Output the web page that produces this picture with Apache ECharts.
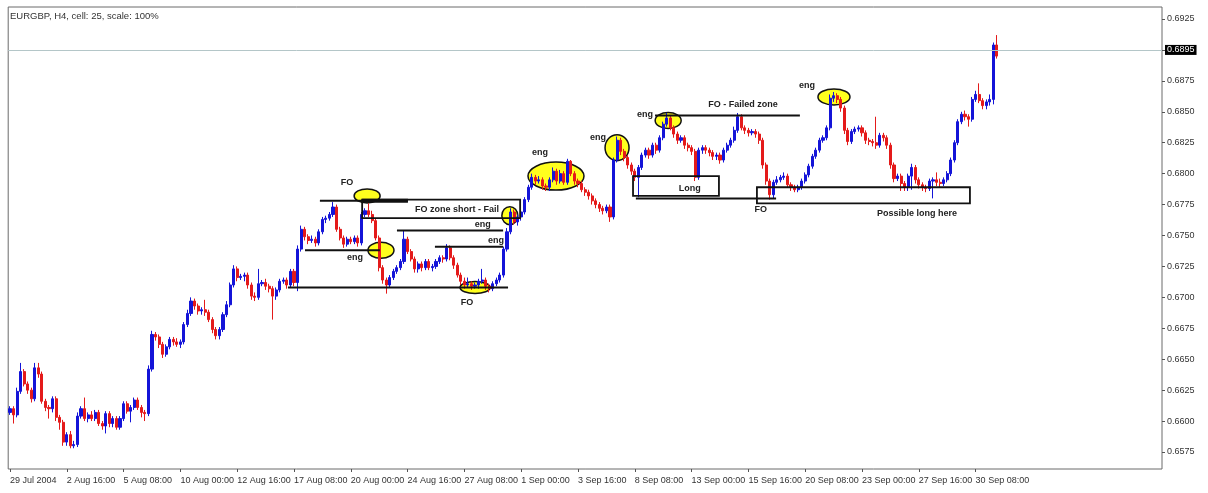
<!DOCTYPE html>
<html>
<head>
<meta charset="utf-8">
<title>EURGBP H4</title>
<script src="https://cdn.jsdelivr.net/npm/echarts@6.0.0/dist/echarts.min.js"></script>
<style>
  html, body { margin: 0; padding: 0; background: #fff; }
  #chart { width: 1208px; height: 493px; }
</style>
</head>
<body>
<div id="chart"></div>
<script>
// H4 bars; each bar opens at the previous close
const firstOpen = 0.6607;
const closes = [
  0.6610,0.6605,0.6624,0.6640,0.6630,0.6625,0.6618,0.6643,0.6638,0.6616,
  0.6611,0.6610,0.6618,0.6603,0.6599,0.6583,0.6589,0.6580,0.6581,0.6604,
  0.6610,0.6602,0.6605,0.6602,0.6607,0.6598,0.6596,0.6606,0.6598,0.6602,
  0.6595,0.6602,0.6614,0.6608,0.6611,0.6617,0.6611,0.6607,0.6606,0.6642,
  0.6670,0.6668,0.6662,0.6654,0.6660,0.6666,0.6664,0.6662,0.6664,0.6678,
  0.6687,0.6697,0.6693,0.6689,0.6690,0.6688,0.6682,0.6674,0.6669,0.6674,
  0.6686,0.6694,0.6710,0.6723,0.6716,0.6717,0.6718,0.6710,0.6701,0.6700,
  0.6711,0.6712,0.6709,0.6707,0.6701,0.6706,0.6713,0.6714,0.6710,0.6721,
  0.6712,0.6739,0.6755,0.6749,0.6746,0.6747,0.6744,0.6753,0.6763,0.6764,
  0.6767,0.6773,0.6755,0.6748,0.6743,0.6747,0.6745,0.6748,0.6744,0.6767,
  0.6770,0.6767,0.6762,0.6748,0.6724,0.6714,0.6710,0.6716,0.6721,0.6724,
  0.6729,0.6747,0.6737,0.6731,0.6723,0.6727,0.6724,0.6729,0.6724,0.6725,
  0.6729,0.6732,0.6731,0.6740,0.6732,0.6726,0.6718,0.6713,0.6710,0.6711,
  0.6709,0.6710,0.6713,0.6714,0.6709,0.6707,0.6711,0.6714,0.6718,0.6739,
  0.6753,0.6769,0.6761,0.6765,0.6769,0.6779,0.6789,0.6797,0.6794,0.6795,
  0.6790,0.6789,0.6795,0.6802,0.6794,0.6800,0.6793,0.6810,0.6800,0.6794,
  0.6792,0.6787,0.6785,0.6782,0.6778,0.6775,0.6772,0.6770,0.6773,0.6765,
  0.6811,0.6827,0.6818,0.6813,0.6807,0.6802,0.6797,0.6805,0.6815,0.6819,
  0.6815,0.6823,0.6819,0.6829,0.6840,0.6845,0.6837,0.6832,0.6827,0.6829,
  0.6823,0.6821,0.6818,0.6797,0.6819,0.6821,0.6819,0.6817,0.6814,0.6815,
  0.6811,0.6819,0.6823,0.6827,0.6835,0.6846,0.6837,0.6835,0.6833,0.6834,
  0.6832,0.6827,0.6807,0.6794,0.6783,0.6793,0.6795,0.6797,0.6798,0.6791,
  0.6789,0.6787,0.6789,0.6794,0.6799,0.6806,0.6814,0.6819,0.6827,0.6829,
  0.6837,0.6861,0.6863,0.6860,0.6853,0.6835,0.6826,0.6834,0.6836,0.6837,
  0.6833,0.6827,0.6826,0.6825,0.6823,0.6831,0.6829,0.6823,0.6807,0.6796,
  0.6798,0.6792,0.6789,0.6798,0.6805,0.6795,0.6791,0.6789,0.6788,0.6794,
  0.6795,0.6793,0.6792,0.6795,0.6800,0.6811,0.6825,0.6842,0.6848,0.6846,
  0.6844,0.6860,0.6864,0.6859,0.6855,0.6858,0.6860,0.6904,0.6895
];
const highs = [
  0.6612,0.6612,0.6627,0.6647,0.6642,0.6632,0.6627,0.6647,0.6647,0.6640,
  0.6618,0.6613,0.6620,0.6620,0.6605,0.6601,0.6591,0.6592,0.6584,0.6607,
  0.6612,0.6619,0.6607,0.6608,0.6609,0.6609,0.6600,0.6608,0.6608,0.6604,
  0.6604,0.6604,0.6616,0.6616,0.6613,0.6619,0.6619,0.6613,0.6609,0.6645,
  0.6673,0.6672,0.6670,0.6664,0.6662,0.6668,0.6668,0.6667,0.6666,0.6680,
  0.6690,0.6700,0.6699,0.6695,0.6692,0.6698,0.6690,0.6684,0.6676,0.6676,
  0.6688,0.6697,0.6712,0.6726,0.6725,0.6719,0.6720,0.6720,0.6712,0.6704,
  0.6723,0.6714,0.6715,0.6711,0.6709,0.6708,0.6715,0.6716,0.6716,0.6723,
  0.6723,0.6742,0.6758,0.6757,0.6751,0.6750,0.6749,0.6755,0.6765,0.6766,
  0.6769,0.6777,0.6775,0.6757,0.6750,0.6749,0.6749,0.6750,0.6750,0.6769,
  0.6772,0.6776,0.6770,0.6764,0.6750,0.6726,0.6716,0.6718,0.6723,0.6726,
  0.6731,0.6754,0.6749,0.6739,0.6733,0.6729,0.6729,0.6731,0.6731,0.6727,
  0.6731,0.6734,0.6734,0.6743,0.6742,0.6734,0.6728,0.6720,0.6716,0.6716,
  0.6713,0.6712,0.6715,0.6723,0.6716,0.6711,0.6713,0.6716,0.6720,0.6741,
  0.6756,0.6772,0.6771,0.6767,0.6771,0.6781,0.6791,0.6800,0.6799,0.6798,
  0.6797,0.6792,0.6797,0.6805,0.6804,0.6803,0.6802,0.6812,0.6811,0.6802,
  0.6796,0.6794,0.6789,0.6787,0.6784,0.6780,0.6777,0.6774,0.6775,0.6775,
  0.6813,0.6830,0.6829,0.6820,0.6815,0.6809,0.6804,0.6807,0.6817,0.6821,
  0.6821,0.6825,0.6825,0.6831,0.6842,0.6849,0.6847,0.6839,0.6834,0.6831,
  0.6831,0.6825,0.6823,0.6820,0.6821,0.6823,0.6823,0.6821,0.6819,0.6817,
  0.6817,0.6821,0.6825,0.6829,0.6838,0.6849,0.6848,0.6839,0.6837,0.6836,
  0.6836,0.6834,0.6829,0.6809,0.6796,0.6795,0.6798,0.6799,0.6801,0.6800,
  0.6793,0.6791,0.6791,0.6796,0.6801,0.6808,0.6816,0.6821,0.6829,0.6831,
  0.6839,0.6864,0.6866,0.6865,0.6862,0.6855,0.6837,0.6836,0.6838,0.6839,
  0.6839,0.6835,0.6829,0.6828,0.6846,0.6833,0.6833,0.6831,0.6825,0.6809,
  0.6800,0.6800,0.6794,0.6800,0.6808,0.6807,0.6797,0.6793,0.6791,0.6796,
  0.6797,0.6801,0.6796,0.6797,0.6802,0.6813,0.6827,0.6844,0.6850,0.6851,
  0.6848,0.6862,0.6867,0.6873,0.6861,0.6860,0.6864,0.6906,0.6912
];
const lows = [
  0.6605,0.6598,0.6603,0.6622,0.6628,0.6622,0.6615,0.6616,0.6635,0.6614,
  0.6608,0.6602,0.6607,0.6600,0.6593,0.6580,0.6580,0.6578,0.6578,0.6579,
  0.6602,0.6600,0.6599,0.6600,0.6600,0.6596,0.6593,0.6590,0.6595,0.6595,
  0.6593,0.6593,0.6600,0.6606,0.6599,0.6609,0.6609,0.6603,0.6600,0.6604,
  0.6640,0.6665,0.6659,0.6651,0.6652,0.6658,0.6661,0.6660,0.6659,0.6662,
  0.6676,0.6685,0.6690,0.6686,0.6686,0.6685,0.6680,0.6671,0.6666,0.6666,
  0.6672,0.6684,0.6692,0.6708,0.6713,0.6714,0.6713,0.6707,0.6698,0.6697,
  0.6698,0.6709,0.6706,0.6704,0.6682,0.6698,0.6704,0.6711,0.6707,0.6708,
  0.6709,0.6705,0.6737,0.6746,0.6743,0.6744,0.6741,0.6742,0.6751,0.6760,
  0.6762,0.6765,0.6753,0.6746,0.6740,0.6741,0.6743,0.6743,0.6741,0.6742,
  0.6765,0.6765,0.6760,0.6746,0.6721,0.6711,0.6703,0.6708,0.6714,0.6719,
  0.6722,0.6727,0.6735,0.6729,0.6720,0.6720,0.6721,0.6722,0.6722,0.6721,
  0.6723,0.6727,0.6728,0.6729,0.6730,0.6723,0.6716,0.6710,0.6707,0.6708,
  0.6706,0.6707,0.6707,0.6711,0.6706,0.6704,0.6705,0.6709,0.6712,0.6716,
  0.6737,0.6751,0.6759,0.6758,0.6762,0.6767,0.6777,0.6787,0.6791,0.6792,
  0.6787,0.6786,0.6786,0.6793,0.6791,0.6792,0.6791,0.6791,0.6798,0.6791,
  0.6789,0.6785,0.6782,0.6779,0.6775,0.6772,0.6769,0.6767,0.6768,0.6761,
  0.6763,0.6809,0.6815,0.6810,0.6804,0.6799,0.6794,0.6781,0.6803,0.6813,
  0.6812,0.6813,0.6816,0.6817,0.6827,0.6838,0.6835,0.6829,0.6824,0.6825,
  0.6820,0.6818,0.6815,0.6794,0.6795,0.6816,0.6816,0.6814,0.6811,0.6811,
  0.6808,0.6809,0.6817,0.6821,0.6825,0.6833,0.6835,0.6832,0.6830,0.6831,
  0.6829,0.6824,0.6804,0.6791,0.6779,0.6780,0.6791,0.6793,0.6795,0.6789,
  0.6786,0.6785,0.6785,0.6787,0.6792,0.6797,0.6804,0.6812,0.6817,0.6825,
  0.6827,0.6835,0.6858,0.6857,0.6850,0.6832,0.6823,0.6824,0.6832,0.6834,
  0.6830,0.6824,0.6823,0.6822,0.6820,0.6821,0.6826,0.6820,0.6804,0.6793,
  0.6794,0.6786,0.6786,0.6786,0.6787,0.6792,0.6788,0.6786,0.6785,0.6786,
  0.6780,0.6790,0.6789,0.6790,0.6793,0.6798,0.6809,0.6823,0.6840,0.6843,
  0.6838,0.6842,0.6858,0.6857,0.6852,0.6852,0.6855,0.6856,0.6893
];
const lastPrice = 0.6895;

const tickLabels = ['29 Jul 2004', '2 Aug 16:00', '5 Aug 08:00', '10 Aug 00:00', '12 Aug 16:00',
  '17 Aug 08:00', '20 Aug 00:00', '24 Aug 16:00', '27 Aug 08:00', '1 Sep 00:00', '3 Sep 16:00',
  '8 Sep 08:00', '13 Sep 00:00', '15 Sep 16:00', '20 Sep 08:00', '23 Sep 00:00', '27 Sep 16:00', '30 Sep 08:00'];
const priceTicks = [0.6575, 0.6600, 0.6625, 0.6650, 0.6675, 0.6700, 0.6725, 0.6750,
  0.6775, 0.6800, 0.6825, 0.6850, 0.6875, 0.6900, 0.6925];

// drawn annotations, in [bar index, price]
const levelLines = [ // [fromBar, toBar, price]
  [87.3, 112.1, 0.6778], [83.1, 104.2, 0.6738], [109.0, 138.9, 0.6754], [119.7, 138.9, 0.6741],
  [78.3, 140.3, 0.6708], [181.7, 222.5, 0.6847], [176.3, 215.8, 0.6780]
];
const heavyLines = [[99.2, 112.1, 0.6778]];
const zoneBoxes = [ // [fromBar, toBar, top, bottom]
  [99.2, 143.7, 0.6779, 0.6764], [175.5, 199.7, 0.6798, 0.6782], [210.4, 270.4, 0.6789, 0.6776]
];
const circled = [ // [bar, price]
  [100.6, 0.6782], [104.5, 0.6738], [131.0, 0.6708], [140.8, 0.6766],
  [153.8, 0.6798], [171.0, 0.6821], [185.4, 0.6843], [232.1, 0.6862]
];
const circleRadius = [[13, 7], [13, 8], [15, 6], [8, 9], [28, 14], [12, 13], [13, 8], [16, 8]];
const notes = [ // [text, bar, price]
  ['FO', 94.9, 0.6793], ['FO zone short - Fail', 125.9, 0.6771], ['eng', 97.2, 0.6732],
  ['eng', 133.2, 0.6759], ['eng', 136.9, 0.6746], ['FO', 128.7, 0.6696],
  ['eng', 149.3, 0.6817], ['eng', 165.6, 0.6829], ['eng', 178.9, 0.6848],
  ['FO - Failed zone', 206.5, 0.6856], ['Long', 191.5, 0.6788], ['FO', 211.5, 0.6771],
  ['Possible long here', 255.5, 0.6768], ['eng', 224.5, 0.6871]
];

// H4 time slots, weekends skipped; the axis keeps empty room right of the last bar
const slots = 325;
const months = ['Jan','Feb','Mar','Apr','May','Jun','Jul','Aug','Sep','Oct','Nov','Dec'];
const categories = [];
let t = Date.UTC(2004, 6, 29, 0);
while (categories.length < slots) {
  const d = new Date(t);
  const wd = d.getUTCDay();
  if (wd !== 0 && wd !== 6) {
    categories.push(d.getUTCDate() + ' ' + months[d.getUTCMonth()] + ' ' +
      String(d.getUTCHours()).padStart(2, '0') + ':00');
  }
  t += 4 * 3600 * 1000;
}

const candles = closes.map(function (c, i) {
  const o = i === 0 ? firstOpen : closes[i - 1];
  return [o, c, lows[i], highs[i]];
});

const showTick = function (idx) { return idx % 16 === 0 && idx / 16 < tickLabels.length; };

var myChart = echarts.init(document.getElementById('chart'));
var option = {
  animation: false,
  backgroundColor: '#fff',
  grid: {
    left: 8.2, right: 46, top: 7, bottom: 24,
    show: true, borderColor: '#6a6a6a', borderWidth: 1, backgroundColor: '#fff',
    containLabel: false, outerBoundsMode: 'none'
  },
  xAxis: {
    type: 'category',
    data: categories,
    boundaryGap: true,
    axisLine: { show: false },
    axisTick: { show: true, alignWithLabel: true, interval: showTick, length: 3, lineStyle: { color: '#555' } },
    axisLabel: {
      interval: showTick,
      formatter: function (v, idx) { return tickLabels[idx / 16]; },
      align: 'left', margin: 7, fontSize: 9, color: '#333', fontFamily: 'Arial'
    },
    splitLine: { show: false }
  },
  yAxis: {
    type: 'value',
    position: 'right',
    min: 0.656125, max: 0.69347,
    axisLine: { show: false },
    axisTick: { show: true, customValues: priceTicks, length: 3, lineStyle: { color: '#555' } },
    axisLabel: {
      customValues: priceTicks,
      formatter: function (v) { return v.toFixed(4); },
      margin: 5, fontSize: 9, color: '#333', fontFamily: 'Arial'
    },
    splitLine: { show: false }
  },
  series: [{
    type: 'candlestick',
    data: candles,
    barWidth: 2.6,
    itemStyle: {
      color: '#1414d8', color0: '#e41a1a',
      borderColor: '#1414d8', borderColor0: '#e41a1a', borderWidth: 1
    },
    markLine: {
      silent: true,
      symbol: 'none',
      lineStyle: { color: '#b4c6c8', width: 1, type: 'solid' },
      label: {
        show: true, position: 'end', distance: 3,
        formatter: lastPrice.toFixed(4),
        backgroundColor: '#000', color: '#fff', padding: [1, 2, 0, 2],
        fontSize: 9, fontFamily: 'Arial'
      },
      data: [{ yAxis: lastPrice }]
    }
  }]
};
myChart.setOption(option);

// annotation overlay placed through the chart's own scales
const ax = myChart.convertToPixel({ xAxisIndex: 0 }, 0);
const bx = myChart.convertToPixel({ xAxisIndex: 0 }, 100);
const xOf = function (i) { return ax + (bx - ax) * i / 100; };
const yOf = function (p) { return myChart.convertToPixel({ yAxisIndex: 0 }, p); };

const elements = [{
  type: 'text', left: 10, top: 11, z: 20,
  style: { text: 'EURGBP, H4, cell: 25, scale: 100%', font: '9.5px Arial', fill: '#333' }
}];
circled.forEach(function (c, k) {
  elements.push({
    type: 'ellipse', z: 1,
    shape: { cx: xOf(c[0]), cy: yOf(c[1]), rx: circleRadius[k][0], ry: circleRadius[k][1] },
    style: { fill: '#ffff1e', stroke: '#111', lineWidth: 1.5 }
  });
});
levelLines.forEach(function (l) {
  elements.push({
    type: 'line', z: 10,
    shape: { x1: xOf(l[0]), y1: yOf(l[2]), x2: xOf(l[1]), y2: yOf(l[2]) },
    style: { stroke: '#111', lineWidth: 2 }
  });
});
heavyLines.forEach(function (l) {
  elements.push({
    type: 'line', z: 10,
    shape: { x1: xOf(l[0]), y1: yOf(l[2]), x2: xOf(l[1]), y2: yOf(l[2]) },
    style: { stroke: '#111', lineWidth: 4 }
  });
});
zoneBoxes.forEach(function (b) {
  const x1 = xOf(b[0]), x2 = xOf(b[1]), y1 = yOf(b[2]), y2 = yOf(b[3]);
  elements.push({
    type: 'rect', z: 10,
    shape: { x: x1, y: y1, width: x2 - x1, height: y2 - y1 },
    style: { fill: 'none', stroke: '#111', lineWidth: 1.8 }
  });
});
notes.forEach(function (n) {
  elements.push({
    type: 'text', z: 11,
    x: xOf(n[1]), y: yOf(n[2]),
    style: {
      text: n[0], font: 'bold 9px Arial', fill: '#222',
      align: 'center', verticalAlign: 'middle', textAlign: 'center', textVerticalAlign: 'middle'
    }
  });
});
myChart.setOption({ graphic: { elements: elements } });
</script>
</body>
</html>
